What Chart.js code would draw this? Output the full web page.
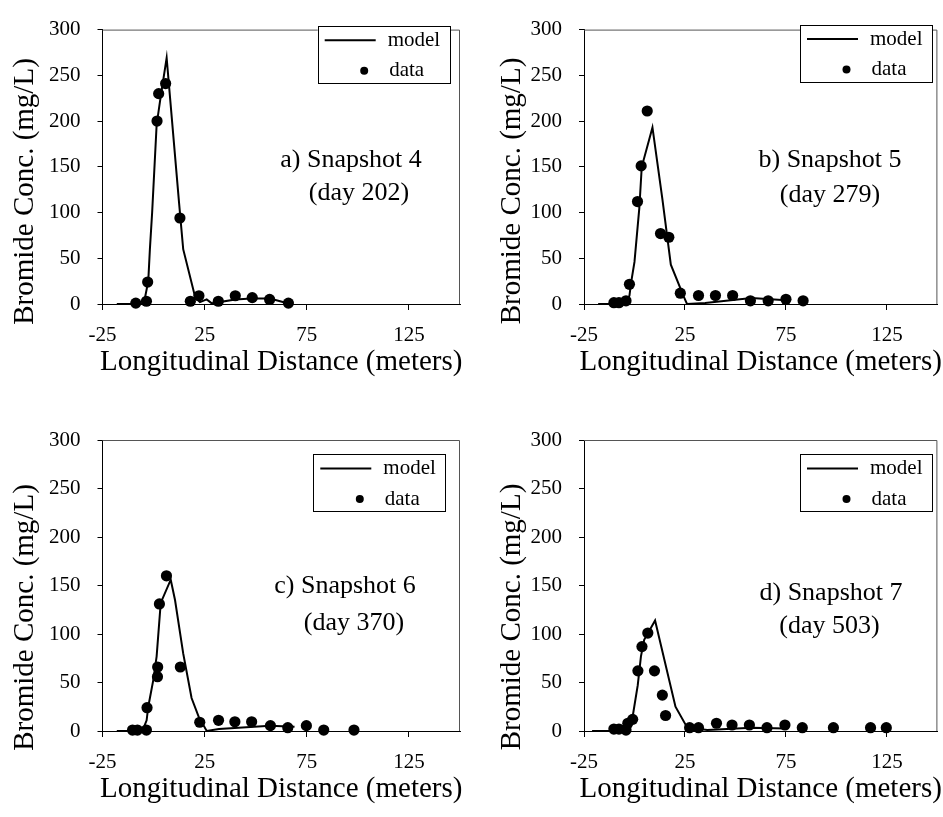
<!DOCTYPE html>
<html><head><meta charset="utf-8">
<script src="https://cdn.jsdelivr.net/npm/chart.js@4.4.0/dist/chart.umd.min.js"></script>
<style>
html,body{margin:0;padding:0;background:#fff;}
#wrap{position:relative;width:943px;height:817px;overflow:hidden;background:#fff}
#wrap canvas{position:absolute;left:0;top:0}
</style></head><body>
<div id="wrap">
<canvas id="ca" width="943" height="817"></canvas>
<canvas id="cb" width="943" height="817"></canvas>
<canvas id="cc" width="943" height="817"></canvas>
<canvas id="cd" width="943" height="817"></canvas>
</div>
<script>
// ---- tick labels / texts ----
const xTicks = [-25, 25, 75, 125];
const yTicks = [0, 50, 100, 150, 200, 250, 300];
const legendLabels = ['model', 'data'];
const yAxisTitle = 'Bromide Conc. (mg/L)';
const xAxisTitle = 'Longitudinal Distance (meters)';

// ---- panel a: Snapshot 4 (day 202) ----
const aNotes = ['a) Snapshot 4', '(day 202)'];
const aModelX = [-18, -5.5, -4.2, -2.6, -1.8, -0.7, 1.5, 3.5, 6.4, 12.5, 14.5, 20.4, 22.7, 26, 28.5, 40, 48, 57, 66];
const aModelY = [0, 0, 7, 25, 60, 100, 196, 227, 269, 110, 60, 7, 2, 5, 0.7, 5, 6, 6, 0.5];
const aDataX = [-8.7, -3.5, -2.9, 1.7, 2.5, 5.9, 12.9, 18, 22.2, 31.7, 40, 48.3, 56.8, 66];
const aDataY = [1, 3, 24, 200, 230, 241, 94, 3, 9, 3, 9, 7, 5, 1];

// ---- panel b: Snapshot 5 (day 279) ----
const bNotes = ['b) Snapshot 5', '(day 279)'];
const bModelX = [-18, -4.9, -2.5, -1.7, 0, 2.4, 3.6, 8.9, 13.8, 18, 24.4, 26, 35, 58, 75];
const bModelY = [0, 0, 9, 23, 46, 105, 150, 193, 115, 43, 8, 0, 1, 6.5, 4];
const bDataX = [-10.2, -7.7, -4.2, -2.5, 1.5, 3.3, 6.3, 12.9, 17, 22.7, 31.7, 40.1, 48.6, 57.4, 66.2, 75, 83.5];
const bDataY = [1.4, 1.4, 3.5, 21.5, 112, 151, 211, 77, 73, 11.8, 9.3, 9.3, 9.3, 3.5, 3.5, 5.2, 3.5];

// ---- panel c: Snapshot 6 (day 370) ----
const cNotes = ['c) Snapshot 6', '(day 370)'];
const cModelX = [-18, -5.5, -3.4, -2.6, -0.1, 1.5, 3.5, 8.4, 10.5, 14.5, 18.6, 22, 26, 32, 57, 69];
const cModelY = [0, 0, 11, 25, 53, 77, 132, 156, 135, 80, 34, 15, 0, 2, 5.5, 4.5];
const cDataX = [-10.3, -7.9, -3.5, -3.2, 1.9, 2, 2.85, 6.3, 13.1, 22.6, 31.8, 39.8, 48, 57.2, 65.7, 74.8, 83.3, 98.1];
const cDataY = [1, 1, 1, 24, 56, 66, 131, 160, 66, 9, 11, 9.5, 9.5, 5.5, 3.4, 5.5, 1, 1];

// ---- panel d: Snapshot 7 (day 503) ----
const dNotes = ['d) Snapshot 7', '(day 503)'];
const dModelX = [-21, -7, -2.5, -0.9, 1.6, 3.2, 4.8, 10.2, 20.3, 26, 36, 58, 75];
const dModelY = [0, 0, 3, 15, 47, 77, 94, 114, 25, 4, 1, 3.4, 2.7];
const dDataX = [-10.2, -7.7, -4.2, -3.3, -0.9, 1.7, 3.7, 6.6, 9.9, 13.8, 15.4, 27.3, 31.7, 40.6, 48.3, 56.9, 65.6, 74.5, 83.1, 98.5, 116.9, 124.7];
const dDataY = [2, 2, 1, 8, 12, 62, 87, 101, 62, 37, 16, 3.4, 3.4, 8, 6.2, 6.2, 3.4, 6.2, 3.4, 3.4, 3.4, 3.4];

// ---- layout (page pixel positions) ----
const W = 943, H = 817;
const FONT = "'Liberation Serif', 'Times New Roman', serif";
const layouts = {
  a: {area: [102.5, 15, 460, 304], yTitle: [25, 191.5], xTitleY: 362.5, legend: [317.7, 25.7], notes: [[351, 167.3], [359, 200]]},
  b: {area: [584, 14.5, 941.7, 304], yTitle: [512.5, 191], xTitleY: 362.5, legend: [800, 24.5], notes: [[830, 167], [830, 202]]},
  c: {area: [102.5, 440, 460, 731], yTitle: [25, 617.5], xTitleY: 789.5, legend: [313.3, 454], notes: [[345, 593], [354, 630]]},
  d: {area: [584, 440, 941.7, 731], yTitle: [512.5, 617], xTitleY: 789.5, legend: [800, 454], notes: [[831, 600], [829.5, 633]]}
};

function zip(xs, ys) { return xs.map((x, i) => ({x: x, y: ys[i]})); }

const decor = {
  id: 'decor',
  afterDraw(chart, args, opts) {
    const L = opts.layout, ctx = chart.ctx, ca = chart.chartArea;
    ctx.save();
    // top and right frame
    ctx.strokeStyle = '#555';
    ctx.lineWidth = 1;
    ctx.beginPath();
    ctx.moveTo(ca.left, ca.top + 0.5);
    ctx.lineTo(ca.right - 0.5, ca.top + 0.5);
    ctx.lineTo(ca.right - 0.5, ca.bottom);
    ctx.stroke();
    ctx.fillStyle = '#000';
    // axis titles
    ctx.font = '29px ' + FONT;
    ctx.textAlign = 'center';
    ctx.textBaseline = 'middle';
    ctx.fillText(xAxisTitle, (ca.left + ca.right) / 2, L.xTitleY);
    ctx.save();
    ctx.translate(L.yTitle[0], L.yTitle[1]);
    ctx.rotate(-Math.PI / 2);
    ctx.fillText(yAxisTitle, 0, 0);
    ctx.restore();
    // notes
    ctx.font = '26px ' + FONT;
    ctx.textBaseline = 'alphabetic';
    opts.notes.forEach((t, i) => ctx.fillText(t, L.notes[i][0], L.notes[i][1]));
    // legend
    const bx = L.legend[0], by = L.legend[1];
    ctx.fillStyle = '#fff';
    ctx.fillRect(bx, by, 132.5, 57.5);
    ctx.strokeStyle = '#000';
    ctx.lineWidth = 1;
    ctx.strokeRect(Math.round(bx) + 0.5, Math.round(by) + 0.5, 132, 57);
    ctx.lineWidth = 2;
    ctx.beginPath();
    ctx.moveTo(bx + 7, by + 14.5);
    ctx.lineTo(bx + 58, by + 14.5);
    ctx.stroke();
    ctx.fillStyle = '#000';
    ctx.beginPath();
    ctx.arc(bx + 46.5, by + 45, 4, 0, Math.PI * 2);
    ctx.fill();
    ctx.font = '21px ' + FONT;
    ctx.textAlign = 'left';
    ctx.textBaseline = 'middle';
    ctx.fillText(legendLabels[0], bx + 70, by + 14.5);
    ctx.fillText(legendLabels[1], bx + 71.5, by + 45);
    ctx.restore();
  }
};

function makePanel(id, key, mx, my, dx, dy, notes) {
  const L = layouts[key];
  const yW = 60, xH = 50;
  const [l, t, r, b] = L.area;
  const tickFont = {family: FONT, size: 21};
  new Chart(document.getElementById(id), {
    type: 'scatter',
    data: {
      datasets: [
        {label: legendLabels[0], data: zip(mx, my), showLine: true, borderColor: '#000', borderWidth: 2,
         pointRadius: 0, fill: false, tension: 0, clip: false, order: 2},
        {label: legendLabels[1], data: zip(dx, dy), showLine: false, pointRadius: 5.6, pointStyle: 'circle',
         backgroundColor: '#000', borderColor: '#000', borderWidth: 0, clip: false, order: 1}
      ]
    },
    options: {
      responsive: false, animation: false, events: [],
      layout: {padding: {left: l - yW, top: t, right: W - r, bottom: H - b - xH}},
      plugins: {legend: {display: false}, tooltip: {enabled: false}, decor: {layout: L, notes: notes}},
      scales: {
        x: {
          type: 'linear', min: -25, max: 150,
          afterBuildTicks: s => { s.ticks = xTicks.map(v => ({value: v})); },
          afterFit: s => { s.height = xH; },
          grid: {drawOnChartArea: false, drawTicks: true, tickLength: 6, color: '#000', lineWidth: 1},
          border: {display: true, color: '#000', width: 1},
          ticks: {color: '#000', font: tickFont, padding: 13, maxRotation: 0, autoSkip: false}
        },
        y: {
          type: 'linear', min: 0, max: 300,
          afterBuildTicks: s => { s.ticks = yTicks.map(v => ({value: v})); },
          afterFit: s => { s.width = yW; },
          grid: {drawOnChartArea: false, drawTicks: true, tickLength: 5, color: '#000', lineWidth: 1},
          border: {display: true, color: '#000', width: 1},
          ticks: {color: '#000', font: tickFont, padding: 17, autoSkip: false}
        }
      }
    },
    plugins: [decor]
  });
}

makePanel('ca', 'a', aModelX, aModelY, aDataX, aDataY, aNotes);
makePanel('cb', 'b', bModelX, bModelY, bDataX, bDataY, bNotes);
makePanel('cc', 'c', cModelX, cModelY, cDataX, cDataY, cNotes);
makePanel('cd', 'd', dModelX, dModelY, dDataX, dDataY, dNotes);
</script>
</body></html>
